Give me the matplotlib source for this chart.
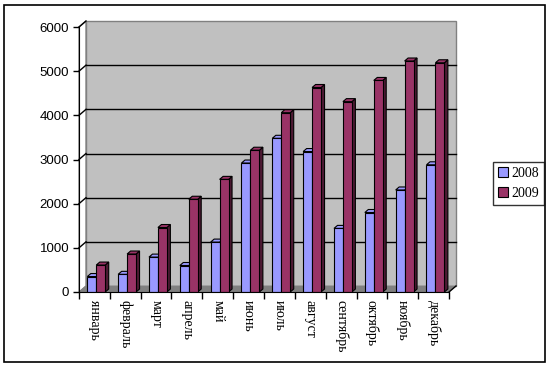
import numpy as np
import matplotlib
matplotlib.use("Agg")
import matplotlib.pyplot as plt
from matplotlib.patches import Polygon, Rectangle, Patch
from matplotlib.transforms import IdentityTransform

# Datos
meses = ["январь", "февраль", "март", "апрель", "май", "июнь",
         "июль", "август", "сентябрь", "октябрь", "ноябрь", "декабрь"]
valores_2008 = [350, 400, 790, 600, 1130, 2920, 3480, 3180, 1440, 1800, 2310, 2880]
valores_2009 = [610, 860, 1460, 2100, 2550, 3210, 4060, 4630, 4310, 4790, 5230, 5190]
series = ["2008", "2009"]

color_frente = ["#9999FF", "#993366"]
color_lado = ["#6B6BB3", "#4D1A33"]

plt.rcParams["font.family"] = ["Liberation Serif", "DejaVu Serif"]

fig = plt.figure(figsize=(5.51, 3.67), dpi=100)
ax = fig.add_axes([79 / 551, (367 - 292) / 367, 370 / 551, 265 / 367])
ax.set_xlim(-0.5, 11.5)
ax.set_ylim(0, 6000)
ax.patch.set_visible(False)

# desplazamiento de profundidad (pixeles)
prof = np.array([7.0, 6.0])
barra = np.array([3.5, 3.0])


def disp(x, y):
    return ax.transData.transform((x, y))


def poligono(puntos, **kw):
    p = Polygon(puntos, closed=True, transform=IdentityTransform(),
                clip_on=False, **kw)
    ax.add_artist(p)
    return p


def linea(a, b, **kw):
    ax.add_artist(plt.Line2D([a[0], b[0]], [a[1], b[1]], transform=IdentityTransform(),
                             clip_on=False, **kw))


# pared del fondo
esq = [disp(-0.5, 0) + prof, disp(11.5, 0) + prof, disp(11.5, 6000) + prof, disp(-0.5, 6000) + prof]
poligono(esq, facecolor="#C0C0C0", edgecolor="#808080", lw=1, zorder=0)
# suelo
suelo = [disp(-0.5, 0), disp(11.5, 0), disp(11.5, 0) + prof, disp(-0.5, 0) + prof]
poligono(suelo, facecolor="#808080", edgecolor="#808080", lw=0.5, zorder=0.5)
# pared lateral
lateral = [disp(-0.5, 0), disp(-0.5, 6000), disp(-0.5, 6000) + prof, disp(-0.5, 0) + prof]
poligono(lateral, facecolor="white", edgecolor="#808080", lw=1, zorder=0.2)

for v in range(1000, 6001, 1000):
    a = disp(-0.5, v)
    b = disp(11.5, v) + prof
    if v < 6000:
        linea(a + prof, b, color="black", lw=1, zorder=0.6)
    linea(a, a + prof, color="black", lw=1, zorder=0.6)
a = disp(11.5, 0)
linea(a, a + prof, color="black", lw=1, zorder=0.6)

# barras
x = np.arange(len(meses))
ancho = 0.29
desp = 0.06
for i in range(len(meses)):
    for s, vals in enumerate([valores_2008, valores_2009]):
        xc = x[i] + desp + (s - 0.5) * ancho
        h = vals[i]
        z = 2 + i * 2 + s
        ax.bar(xc, h, width=ancho, color=color_frente[s], edgecolor="black",
               lw=0.8, zorder=z + 0.5)
        p0 = disp(xc + ancho / 2, 0)
        p1 = disp(xc + ancho / 2, h)
        q1 = disp(xc - ancho / 2, h)
        poligono([p0, p1, p1 + barra, p0 + barra], facecolor=color_lado[s],
                 edgecolor="black", lw=0.8, zorder=z)
        poligono([q1, p1, p1 + barra, q1 + barra], facecolor=color_frente[s],
                 edgecolor="black", lw=0.8, zorder=z)

# ejes
for lado in ["top", "right"]:
    ax.spines[lado].set_visible(False)
ax.spines["left"].set_zorder(50)
ax.spines["bottom"].set_zorder(50)

ax.set_yticks(range(0, 6001, 1000))
ax.tick_params(axis="y", length=4, width=1, pad=3)
for t in ax.get_yticklabels():
    t.set_fontfamily(["Liberation Sans", "DejaVu Sans"])
    t.set_fontsize(9.5)
ax.set_xticks(np.arange(-0.5, 12, 1))
ax.set_xticklabels([])
ax.tick_params(axis="x", which="major", length=5, width=1)
ax.set_xticks(x, minor=True)
ax.set_xticklabels(meses, minor=True, rotation=270, fontsize=10)
ax.tick_params(axis="x", which="minor", length=0, pad=6)

# leyenda
manejadores = [Patch(facecolor=c, edgecolor="black", lw=0.8) for c in color_frente]
fig.legend(manejadores, series, loc="upper left",
           bbox_to_anchor=(493 / 551, 1 - 162 / 367), fontsize=10,
           handlelength=0.7, handleheight=0.7, handletextpad=0.3,
           borderpad=0.35, labelspacing=0.5, frameon=True, fancybox=False,
           edgecolor="black", borderaxespad=0)

# marco exterior
fig.patches.append(Rectangle((4 / 551, 1 - 362 / 367), 541 / 551, 357 / 367,
                             transform=fig.transFigure, fill=False,
                             edgecolor="black", lw=1.2))

fig.savefig("out.png", dpi=100)
